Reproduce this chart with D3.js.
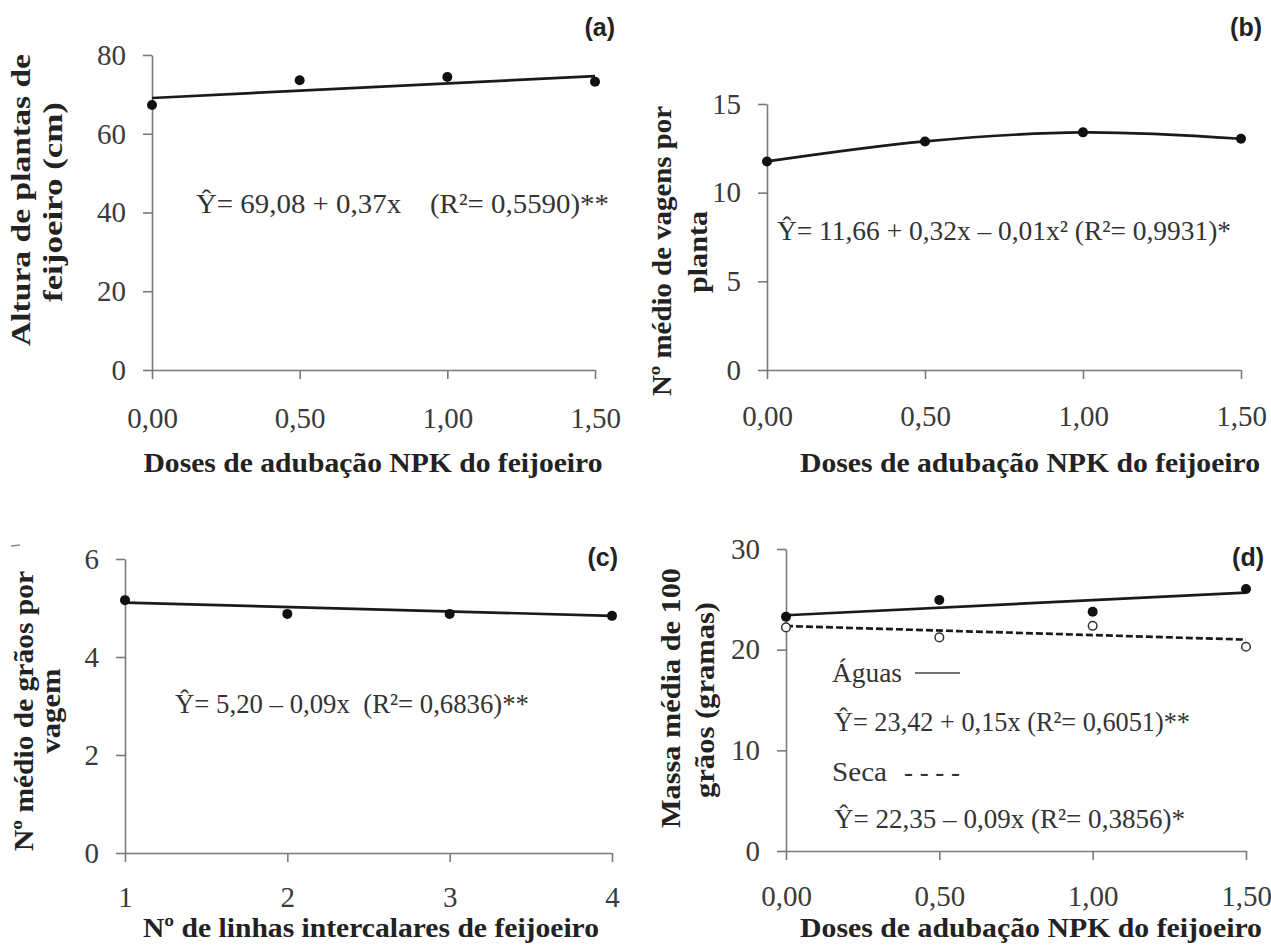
<!DOCTYPE html>
<html>
<head>
<meta charset="utf-8">
<script src="https://cdn.jsdelivr.net/npm/d3@7"></script>
<style>
  body { margin: 0; background: #fff; }
  svg { display: block; }
  text { font-family: "Liberation Serif", "DejaVu Serif", serif; }
</style>
</head>
<body>
<div id="chart"></div>
<script>
// x values
var dosesNPK = [0, 0.5, 1.0, 1.5];
var linhasIntercalares = [1, 2, 3, 4];

// (a) altura de plantas (cm)
var alturaPlantas = [67.3, 73.6, 74.4, 73.2];
var fitAlturaX = [0, 1.5];
var fitAlturaY = [69.08, 74.63];

// (b) vagens por planta
var vagensPlanta = [11.76, 12.89, 13.40, 13.04];

// (c) grãos por vagem
var graosVagem = [5.16, 4.88, 4.88, 4.84];
var fitGraosX = [1, 4];
var fitGraosY = [5.11, 4.84];

// (d) massa de 100 grãos
var massaAguas = [23.27, 24.93, 23.77, 26.02];
var massaSeca = [22.21, 21.22, 22.37, 20.29];
var fitMassaX = [0, 1.5];
var fitAguasY = [23.42, 25.67];
var fitSecaY = [22.35, 21.0];

// ticks
var ticksA = [0, 20, 40, 60, 80];
var ticksB = [0, 5, 10, 15];
var ticksC = [0, 2, 4, 6];
var ticksD = [0, 10, 20, 30];

var serif = "Liberation Serif";
var sans = "Liberation Sans";

var svg = d3.select("#chart").append("svg")
    .attr("width", 1271)
    .attr("height", 945);

function zip(a, b) { return a.map(function(v, i) { return [v, b[i]]; }); }
var commaFmt = function(d) { return d3.format(".2f")(d).replace(".", ","); };

function drawPanel(p) {
  var g = svg.append("g");
  var x = d3.scaleLinear().domain(p.xDomain).range(p.xRange);
  var y = d3.scaleLinear().domain(p.yDomain).range(p.yRange);

  // y axis
  var ya = g.append("g")
      .attr("transform", "translate(" + p.xRange[0] + ",0)")
      .call(d3.axisLeft(y).tickValues(p.yTicks).tickFormat(d3.format("d"))
        .tickSize(9).tickSizeOuter(0).tickPadding(17));
  // x axis
  var xa = g.append("g")
      .attr("transform", "translate(0," + p.yRange[0] + ")")
      .call(d3.axisBottom(x).tickValues(p.xTicks).tickFormat(p.xFormat)
        .tickSize(9).tickSizeOuter(0).tickPadding(p.xPad));

  [ya, xa].forEach(function(a) {
    a.attr("font-family", serif).attr("font-size", 29);
    a.select(".domain").attr("stroke", "#7a7a7a").attr("stroke-width", 1.6);
    a.selectAll(".tick line").attr("stroke", "#7a7a7a").attr("stroke-width", 1.6);
    a.selectAll(".tick text").attr("fill", "#3a3a3a");
  });

  // fitted lines
  p.lines.forEach(function(l) {
    g.append("path")
      .datum(l.data)
      .attr("fill", "none")
      .attr("stroke", "#1a1a1a")
      .attr("stroke-width", 2.7)
      .attr("stroke-dasharray", l.dash || null)
      .attr("d", d3.line()
        .curve(l.curve || d3.curveLinear)
        .x(function(d) { return x(d[0]); })
        .y(function(d) { return y(d[1]); }));
  });

  // points
  p.points.forEach(function(s) {
    g.selectAll(null)
      .data(s.data)
      .enter().append("circle")
      .attr("cx", function(d) { return x(d[0]); })
      .attr("cy", function(d) { return y(d[1]); })
      .attr("r", s.open ? 4.3 : 5)
      .attr("fill", s.open ? "#fff" : "#111")
      .attr("stroke", s.open ? "#333" : "none")
      .attr("stroke-width", 1.5);
  });

  // panel letter
  g.append("text")
    .attr("x", p.letter[0]).attr("y", p.letter[1])
    .attr("text-anchor", "end")
    .attr("font-family", sans).attr("font-weight", "bold").attr("font-size", 25)
    .style("font-family", sans)
    .attr("fill", "#222")
    .text(p.letter[2]);

  // x title
  g.append("text")
    .attr("x", p.xTitle[0]).attr("y", p.xTitle[1])
    .attr("text-anchor", "middle")
    .attr("textLength", p.xTitle[2]).attr("lengthAdjust", "spacingAndGlyphs")
    .attr("font-weight", "bold").attr("font-size", 28)
    .attr("fill", "#222")
    .text(p.xTitle[3]);

  // y title lines
  p.yTitle.forEach(function(t) {
    g.append("text")
      .attr("transform", "translate(" + t[0] + "," + t[1] + ") rotate(-90)")
      .attr("text-anchor", "middle")
      .attr("textLength", t[2]).attr("lengthAdjust", "spacingAndGlyphs")
      .attr("font-weight", "bold").attr("font-size", 28)
      .attr("fill", "#222")
      .text(t[3]);
  });

  // equations and notes
  p.notes.forEach(function(t) {
    g.append("text")
      .attr("x", t[0]).attr("y", t[1])
      .attr("textLength", t[2]).attr("lengthAdjust", "spacingAndGlyphs")
      .attr("font-size", 28)
      .attr("fill", "#333")
      .style("white-space", "pre")
      .text(t[3]);
  });
  return g;
}

drawPanel({
  xDomain: [0, 1.5], xRange: [152, 595], yDomain: [0, 80], yRange: [370, 55],
  xTicks: dosesNPK, yTicks: ticksA, xFormat: commaFmt, xPad: 28,
  lines: [{ data: zip(fitAlturaX, fitAlturaY) }],
  points: [{ data: zip(dosesNPK, alturaPlantas) }],
  letter: [615, 36, "(a)"],
  xTitle: [373, 472, 459, "Doses de adubação NPK do feijoeiro"],
  yTitle: [[30, 200, 292, "Altura de plantas de"], [62, 202, 200, "feijoeiro  (cm)"]],
  notes: [[196, 213, 413, "Ŷ= 69,08 + 0,37x    (R²= 0,5590)**"]]
});

drawPanel({
  xDomain: [0, 1.5], xRange: [767, 1241], yDomain: [0, 15], yRange: [370, 104],
  xTicks: dosesNPK, yTicks: ticksB, xFormat: commaFmt, xPad: 26,
  lines: [{ data: zip(dosesNPK, vagensPlanta), curve: d3.curveCatmullRom }],
  points: [{ data: zip(dosesNPK, vagensPlanta) }],
  letter: [1262, 36, "(b)"],
  xTitle: [1030, 472, 460, "Doses de adubação NPK do feijoeiro"],
  yTitle: [[671, 251, 290, "Nº médio de vagens por"], [707, 252, 82, "planta"]],
  notes: [[777, 240, 454, "Ŷ= 11,66 + 0,32x – 0,01x² (R²= 0,9931)*"]]
});

drawPanel({
  xDomain: [1, 4], xRange: [125, 612], yDomain: [0, 6], yRange: [853, 559],
  xTicks: linhasIntercalares, yTicks: ticksC, xFormat: d3.format("d"), xPad: 24,
  lines: [{ data: zip(fitGraosX, fitGraosY) }],
  points: [{ data: zip(linhasIntercalares, graosVagem) }],
  letter: [618, 566, "(c)"],
  xTitle: [371, 937, 456, "Nº de linhas intercalares de feijoeiro"],
  yTitle: [[33, 711, 280, "Nº médio de grãos por"], [60, 711, 85, "vagem"]],
  notes: [[175, 713, 354, "Ŷ= 5,20 – 0,09x  (R²= 0,6836)**"]]
});

var pd = drawPanel({
  xDomain: [0, 1.5], xRange: [786, 1246], yDomain: [0, 30], yRange: [851, 549],
  xTicks: dosesNPK, yTicks: ticksD, xFormat: commaFmt, xPad: 25,
  lines: [{ data: zip(fitMassaX, fitAguasY) }, { data: zip(fitMassaX, fitSecaY), dash: "7,3" }],
  points: [{ data: zip(dosesNPK, massaAguas) }, { data: zip(dosesNPK, massaSeca), open: true }],
  letter: [1264, 566, "(d)"],
  xTitle: [1031, 937, 462, "Doses de adubação NPK do feijoeiro"],
  yTitle: [[680, 698, 260, "Massa média de 100"], [714, 700, 196, "grãos (gramas)"]],
  notes: [
    [832, 682, 70, "Águas"],
    [834, 731, 356, "Ŷ= 23,42 + 0,15x (R²= 0,6051)**"],
    [832, 781, 55, "Seca"],
    [904, 781, 56, "- - - -"],
    [834, 828, 351, "Ŷ= 22,35 – 0,09x (R²= 0,3856)*"]
  ]
});

// legend sample line for Águas
pd.append("line")
  .attr("x1", 915).attr("x2", 960).attr("y1", 673).attr("y2", 673)
  .attr("stroke", "#444").attr("stroke-width", 1.3);

// small stray mark at top-left of panel (c)
svg.append("line")
  .attr("x1", 11).attr("x2", 20).attr("y1", 546).attr("y2", 545)
  .attr("stroke", "#888").attr("stroke-width", 1.5);
</script>
</body>
</html>
